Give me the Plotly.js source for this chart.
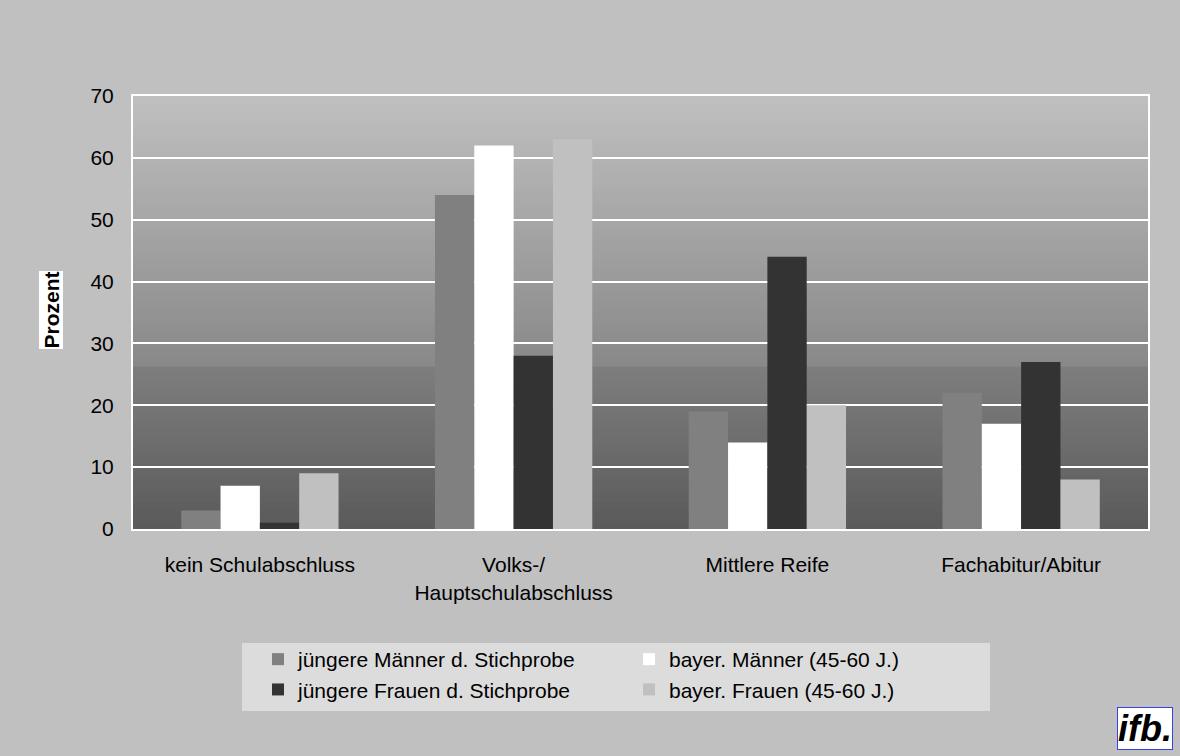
<!DOCTYPE html>
<html>
<head>
<meta charset="utf-8">
<script src="https://cdn.plot.ly/plotly-3.0.1.min.js"></script>
<style>
html,body{margin:0;padding:0;background:#c0c0c0;}
#chart{width:1180px;height:756px;}
</style>
</head>
<body>
<div id="chart"></div>
<script>
// ---- data ----
const categories = ["kein Schulabschluss", "Volks-/<br>Hauptschulabschluss", "Mittlere Reife", "Fachabitur/Abitur"];
const seriesNames = ["jüngere Männer d. Stichprobe", "bayer. Männer (45-60 J.)", "jüngere Frauen d. Stichprobe", "bayer. Frauen (45-60 J.)"];
const juengereMaenner = [3, 54, 19, 22];
const bayerMaenner = [7, 62, 14, 17];
const juengereFrauen = [1, 28, 44, 27];
const bayerFrauen = [9, 63, 20, 8];
const yTicks = [0, 10, 20, 30, 40, 50, 60, 70];

// ---- styles ----
const seriesValues = [juengereMaenner, bayerMaenner, juengereFrauen, bayerFrauen];
const seriesColors = ["#808080", "#ffffff", "#333333", "#c0c0c0"];
const FONT = "Liberation Sans, Arial, sans-serif";

const traces = seriesValues.map((vals, i) => ({
  type: "bar",
  x: categories,
  y: vals,
  name: seriesNames[i],
  marker: {color: seriesColors[i], line: {width: 0}},
  hoverinfo: "x+y+name"
}));

// gradient background of plot area drawn as thin bands (style only)
function hex(c){return [parseInt(c.slice(1,3),16),parseInt(c.slice(3,5),16),parseInt(c.slice(5,7),16)];}
function mix(a,b,t){const A=hex(a),B=hex(b);return "rgb("+A.map((v,k)=>Math.round(v+(B[k]-v)*t)).join(",")+")";}
const shapes = [];
const split = 0.374;
const N = 80;
for (let k = 0; k < N; k++) {
  const y0 = k / N, y1 = (k + 1) / N;
  const ym = (y0 + y1) / 2;
  let col;
  if (ym < split) col = mix("#5a5a5a", "#7e7e7e", ym / split);
  else col = mix("#888888", "#c0c0c0", (ym - split) / (1 - split));
  shapes.push({type: "rect", xref: "x domain", yref: "y domain", x0: 0, x1: 1, y0: y0, y1: y1 + 0.002,
    fillcolor: col, line: {width: 0}, layer: "below"});
}
// legend box background
const mL = 133, mR = 32, mT = 96, mB = 227, W = 1180, H = 756;
const pw = W - mL - mR, ph = H - mT - mB;
function px2x(px){return (px - mL) / pw;}
function py2y(py){return (H - mB - py) / ph;}
shapes.push({type: "rect", xref: "paper", yref: "paper", x0: px2x(242), x1: px2x(990), y0: py2y(711), y1: py2y(643),
  fillcolor: "#dcdcdc", line: {width: 0}, layer: "below"});

const layout = {
  width: W, height: H,
  margin: {l: mL, r: mR, t: mT, b: mB},
  paper_bgcolor: "#c0c0c0",
  plot_bgcolor: "#c0c0c0",
  font: {family: FONT, size: 21, color: "#000000"},
  barmode: "group",
  bargap: 0.38,
  bargroupgap: 0,
  showlegend: true,
  legend: {
    orientation: "h",
    x: px2x(258), xanchor: "left",
    y: py2y(639), yanchor: "top",
    bgcolor: "rgba(0,0,0,0)",
    borderwidth: 0,
    entrywidth: 326, entrywidthmode: "pixels",
    font: {family: FONT, size: 21, color: "#000000"},
    traceorder: "normal",
    itemclick: false
  },
  xaxis: {
    type: "category",
    showgrid: false,
    showline: true, mirror: true, linecolor: "#ffffff", linewidth: 2,
    ticks: "", ticklabelstandoff: 16,
    tickfont: {family: FONT, size: 21, color: "#000000"},
    zeroline: false
  },
  yaxis: {
    range: [0, 70],
    tickvals: yTicks,
    ticktext: yTicks.map(String),
    showgrid: true, gridcolor: "#ffffff", gridwidth: 2,
    showline: true, mirror: true, linecolor: "#ffffff", linewidth: 2,
    ticks: "", ticklabelstandoff: 13,
    tickfont: {family: FONT, size: 21, color: "#000000"},
    zeroline: false
  },
  shapes: shapes,
  annotations: [
    {text: "<b>Prozent</b>", textangle: -90, xref: "paper", yref: "paper",
     x: px2x(50.5), y: py2y(310), xanchor: "center", yanchor: "middle",
     showarrow: false, bgcolor: "#ffffff", borderpad: 0,
     font: {family: FONT, size: 21, color: "#000000"}},
    {text: "<b><i>ifb.</i></b>", xref: "paper", yref: "paper",
     x: px2x(1145), y: py2y(728), xanchor: "center", yanchor: "middle",
     showarrow: false, bgcolor: "#ffffff", bordercolor: "#3344dd", borderwidth: 1, borderpad: 0,
     font: {family: FONT, size: 36, color: "#000000"}}
  ]
};

Plotly.newPlot("chart", traces, layout, {displayModeBar: false, staticPlot: true});
</script>
</body>
</html>
